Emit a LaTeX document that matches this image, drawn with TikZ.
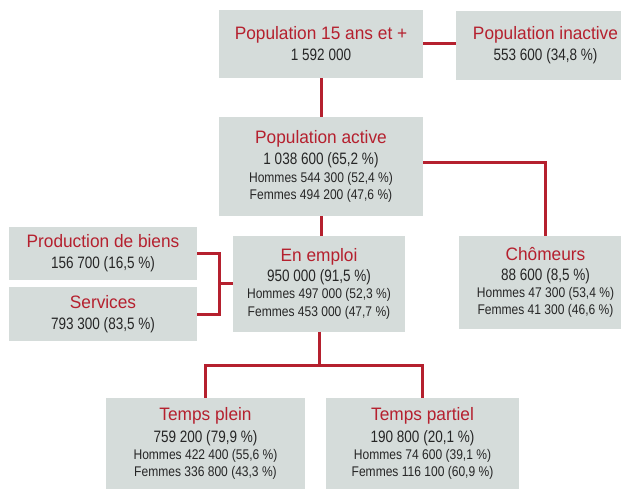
\documentclass[tikz,border=0pt]{standalone}
\usepackage{fontspec}
\setmainfont{Liberation Sans}
\newfontfamily\titlefam[FakeStretch=0.96]{Liberation Sans}
\newfontfamily\bodyfam[FakeStretch=0.82]{Liberation Sans}
\newfontfamily\smallfam[FakeStretch=0.86]{Liberation Sans}

\definecolor{boxgray}{HTML}{D5DCDA}
\definecolor{titlered}{HTML}{B5202E}
\definecolor{textgray}{HTML}{262626}

\newcommand{\boxtitle}[1]{{\titlefam\fontsize{18bp}{21bp}\selectfont\color{titlered}#1}}
\newcommand{\boxsmall}[1]{{\smallfam\fontsize{14bp}{17bp}\selectfont #1}}

\tikzset{
  box/.style={fill=boxgray, inner sep=0pt, align=center, text=textgray,
    font=\bodyfam\fontsize{16.5bp}{18bp}\selectfont},
  link/.style={draw=titlered, line width=3bp}
}

\begin{document}
\begin{tikzpicture}[x=1bp, y=-1bp]
\useasboundingbox (0,0) rectangle (621,489);

% Top row
\node[box, minimum width=204bp, minimum height=68bp] (pop15) at (321,44)
  {\boxtitle{Population 15 ans et +}\\[3bp] 1 592 000};
\node[box, minimum width=179bp, minimum height=69bp] (inactive) at (545.5,45.5)
  {\boxtitle{Population inactive}\\[3bp] 553 600 (34,8 \%)};

% Active population
\node[box, minimum width=204bp, minimum height=99bp] (active) at (321,166.5)
  {\boxtitle{Population active}\\[3bp] 1 038 600 (65,2 \%)\\[-0.5bp]
   \boxsmall{Hommes 544 300 (52,4 \%)}\\[-1bp] \boxsmall{Femmes 494 200 (47,6 \%)}};

% Middle row
\node[box, minimum width=188bp, minimum height=53bp] (prod) at (103,253.5)
  {\boxtitle{Production de biens}\\[3bp] 156 700 (16,5 \%)};
\node[box, minimum width=188bp, minimum height=54bp] (serv) at (103,314)
  {\boxtitle{Services}\\[3bp] 793 300 (83,5 \%)};
\node[box, minimum width=172bp, minimum height=95.5bp] (emploi) at (319,283.75)
  {\boxtitle{En emploi}\\[2bp] 950 000 (91,5 \%)\\[-0.5bp]
   \boxsmall{Hommes 497 000 (52,3 \%)}\\[-0.5bp] \boxsmall{Femmes 453 000 (47,7 \%)}};
\node[box, minimum width=173bp, minimum height=93bp] (chomeurs) at (545.5,282.5)
  {\boxtitle{Chômeurs}\\[2bp] 88 600 (8,5 \%)\\[-0.5bp]
   \boxsmall{Hommes 47 300 (53,4 \%)}\\[-1bp] \boxsmall{Femmes 41 300 (46,6 \%)}};

% Bottom row
\node[box, minimum width=199bp, minimum height=91bp] (plein) at (205.5,443.5)
  {\boxtitle{Temps plein}\\[4bp] 759 200 (79,9 \%)\\[-1bp]
   \boxsmall{Hommes 422 400 (55,6 \%)}\\[-1bp] \boxsmall{Femmes 336 800 (43,3 \%)}};
\node[box, minimum width=193bp, minimum height=91bp] (partiel) at (422.5,443.5)
  {\boxtitle{Temps partiel}\\[4bp] 190 800 (20,1 \%)\\[-1bp]
   \boxsmall{Hommes 74 600 (39,1 \%)}\\[-1bp] \boxsmall{Femmes 116 100 (60,9 \%)}};

% Junctions
\coordinate (jn) at (219,283.75);
\coordinate (fork) at (319,365);

% Connectors
\draw[link] (pop15.south) -- (active.north);
\draw[link] (pop15.east) -- (pop15.east -| inactive.west);
\draw[link] ([yshift=3.5bp]active.east) -| (chomeurs.north);
\draw[link] (active.south) -- (active.south |- emploi.north);
\draw[link] (prod.east) -| (jn) |- (serv.east);
\draw[link] (jn) -- (emploi.west);
\draw[link] (emploi.south) -- (fork);
\draw[link] (plein.north) |- (fork) -| (partiel.north);
\end{tikzpicture}
\end{document}
